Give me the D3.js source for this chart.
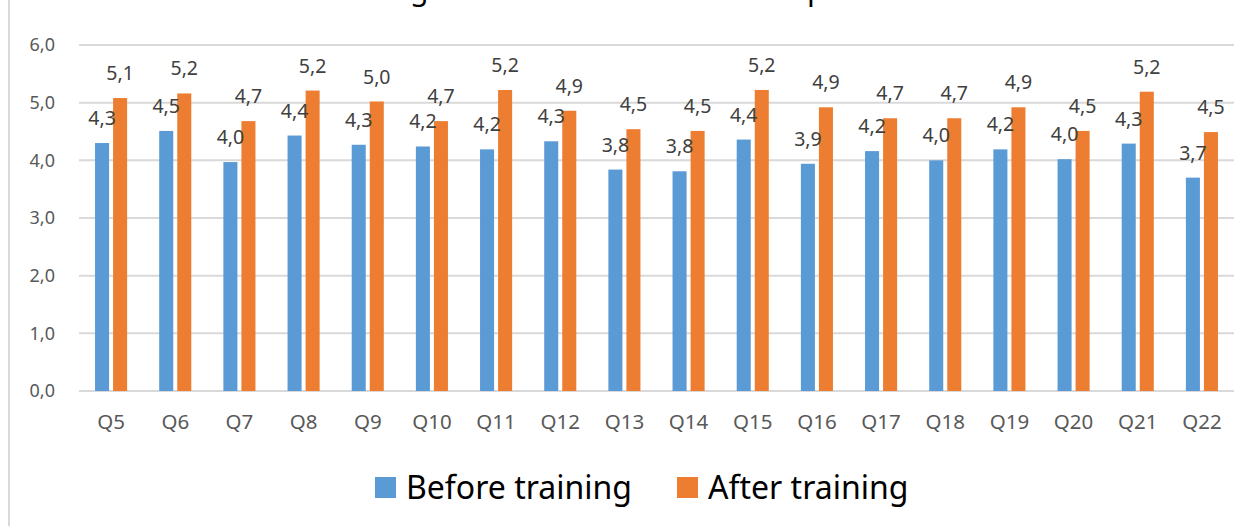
<!DOCTYPE html>
<html><head><meta charset="utf-8">
<script src="https://cdn.jsdelivr.net/npm/d3@7"></script>
<style>html,body{margin:0;padding:0;background:#fff;overflow:hidden}svg{display:block}</style>
</head><body>
<svg id="chart" width="1255" height="526"></svg>
<script>
const categories = ["Q5","Q6","Q7","Q8","Q9","Q10","Q11","Q12","Q13","Q14","Q15","Q16","Q17","Q18","Q19","Q20","Q21","Q22"];
const seriesNames = ["Before training","After training"];
const before = [4.30,4.51,3.97,4.43,4.27,4.24,4.19,4.33,3.84,3.81,4.36,3.94,4.16,4.00,4.19,4.02,4.29,3.70];
const after  = [5.08,5.16,4.68,5.21,5.02,4.68,5.22,4.86,4.54,4.51,5.22,4.92,4.73,4.73,4.92,4.51,5.19,4.49];
const yTicks = [0,1,2,3,4,5,6];
const titleText = "Average score of self-assessment per item";
const colors = ["#5b9bd5","#ed7d31"];

(function(){
const svg = d3.select("#chart");
const FONT = "'Noto Sans', 'Open Sans', sans-serif";
const loc = d3.formatLocale({decimal:",", thousands:".", grouping:[3], currency:["","€"]});
const fmt = loc.format(".1f");

const pLeft = 79, pRight = 1234, pTop = 45, pBottom = 391;
const x0 = d3.scaleBand().domain(categories).range([pLeft,pRight]).paddingInner(0.5).paddingOuter(0.25);
const x1 = d3.scaleBand().domain(seriesNames).range([0,x0.bandwidth()]).paddingInner(0.222);
const y = d3.scaleLinear().domain([0,6]).range([pBottom,pTop]);

// chart border (left)
svg.append("line").attr("x1",9).attr("x2",9).attr("y1",0).attr("y2",526)
  .attr("stroke","#d9d9d9").attr("stroke-width",2);

// title (clipped at top of the picture, only descenders visible, as in the reference)
const title = svg.append("text").attr("font-family",FONT).attr("fill","#000")
  .attr("font-size",40).attr("x",0).attr("y",0).text(titleText);
{
  const gi = titleText.indexOf("g"), pi = titleText.indexOf("p");
  let gx = title.node().getStartPositionOfChar(gi).x;
  let px = title.node().getStartPositionOfChar(pi).x;
  const fs = 40 * 397 / (px - gx);
  title.attr("font-size",fs);
  gx = title.node().getStartPositionOfChar(gi).x;
  title.attr("x", 410 - gx).attr("y", 0);
}

// grid
svg.append("g").selectAll("line").data(yTicks).join("line")
  .attr("x1",pLeft).attr("x2",pRight).attr("y1",d=>y(d)).attr("y2",d=>y(d))
  .attr("stroke","#d9d9d9").attr("stroke-width",2);

// y axis labels
const yAxis = d3.axisLeft(y).tickValues(yTicks).tickFormat(fmt).tickSize(0).tickPadding(0);
const ya = svg.append("g").attr("transform",`translate(55,0)`).call(yAxis);
ya.select(".domain").remove();
ya.selectAll("text").attr("font-family",FONT).attr("font-size",18).attr("fill","#595959");

// x axis labels
const xAxis = d3.axisBottom(x0).tickSize(0).tickPadding(0);
const xa = svg.append("g").attr("transform",`translate(0,${pBottom})`).call(xAxis);
xa.select(".domain").remove();
xa.selectAll("text").attr("font-family",FONT).attr("font-size",20.5).attr("fill","#595959")
  .attr("dy",null).attr("y",38);

// bars
const data = categories.map((c,i)=>({c, vals:[before[i],after[i]]}));
const groups = svg.append("g").selectAll("g").data(data).join("g")
  .attr("transform",d=>`translate(${x0(d.c)},0)`);
groups.selectAll("rect").data(d=>d.vals.map((v,k)=>({k,v}))).join("rect")
  .attr("x",d=>x1(seriesNames[d.k])).attr("width",x1.bandwidth())
  .attr("y",d=>y(d.v)).attr("height",d=>y(0)-y(d.v))
  .attr("fill",d=>colors[d.k]);
groups.selectAll("text").data(d=>d.vals.map((v,k)=>({k,v}))).join("text")
  .attr("x",d=>x1(seriesNames[d.k])+x1.bandwidth()/2)
  .attr("y",d=>y(d.v)-18)
  .attr("text-anchor","middle").attr("font-family",FONT).attr("font-size",19.5).attr("fill","#404040")
  .text(d=>fmt(d.v));

// legend
const legendX = [375, 677];
const lg = svg.append("g").selectAll("g").data(seriesNames).join("g");
lg.append("rect").attr("x",(d,i)=>legendX[i]).attr("y",477).attr("width",21).attr("height",21)
  .attr("fill",(d,i)=>colors[i]);
lg.append("text").attr("x",(d,i)=>legendX[i]+31).attr("y",499)
  .attr("font-family",FONT).attr("font-size",32).attr("fill","#000").text(d=>d);
})();
</script>
</body></html>
